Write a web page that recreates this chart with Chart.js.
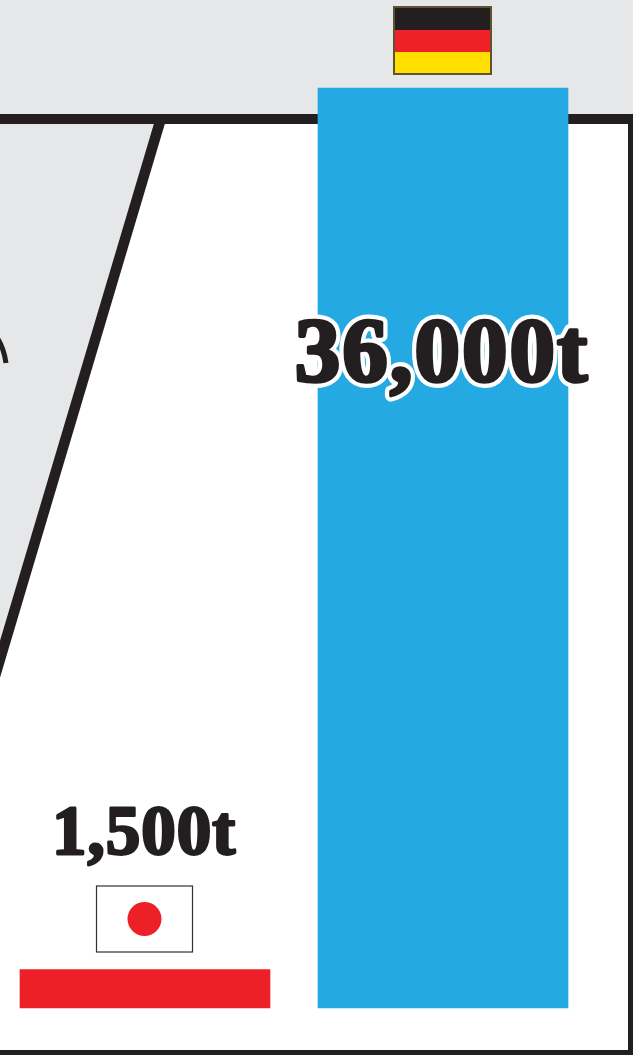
<!DOCTYPE html>
<html>
<head>
<meta charset="utf-8">
<title>Tonnes by country</title>
<script src="https://cdn.jsdelivr.net/npm/chart.js@4/dist/chart.umd.min.js"></script>
<style>
  html, body { margin: 0; padding: 0; background: #fff; overflow: hidden; }
  canvas { display: block; }
</style>
</head>
<body>
<canvas id="tonnageChart" width="633" height="1055"></canvas>
<script>
const countries = ['Japan', 'Germany'];
const tonnes = [1500, 36000];
const valueLabels = ['1,500t', '36,000t'];

const INK = '#231f20';
const PANEL = '#e6e7e8';
const RED = '#ed1f27';
const BLUE = '#25a9e2';
const YELLOW = '#ffde00';
const LABEL_FONT = '"Liberation Serif"';

// grey band, heavy frame and the slanted divider behind the bars
const backdrop = {
  id: 'backdrop',
  beforeDatasetsDraw(chart) {
    const c = chart.ctx;
    c.save();
    c.fillStyle = PANEL;
    c.fillRect(0, 0, 633, 120);
    c.beginPath();
    c.moveTo(0, 120);
    c.lineTo(160, 120);
    c.lineTo(0, 670);
    c.closePath();
    c.fill();

    c.strokeStyle = INK;
    c.lineWidth = 10.5;
    c.beginPath();
    c.moveTo(160.5, 120);
    c.lineTo(-5, 676);
    c.stroke();

    c.fillStyle = INK;
    c.fillRect(0, 114, 633, 10);
    c.fillRect(628, 114, 5, 941);
    c.fillRect(0, 1050, 633, 5);

    // end of the arc cut off at the left edge
    c.lineWidth = 5;
    c.beginPath();
    c.moveTo(-2, 339);
    c.quadraticCurveTo(4, 349, 6, 363);
    c.stroke();
    c.restore();
  }
};

function drawJapanFlag(c, cx, top) {
  c.fillStyle = '#fff';
  c.fillRect(cx - 48, top, 96, 66);
  c.strokeStyle = '#333031';
  c.lineWidth = 1.2;
  c.strokeRect(cx - 48, top, 96, 66);
  c.fillStyle = RED;
  c.beginPath();
  c.arc(cx, top + 33, 17, 0, Math.PI * 2);
  c.fill();
}

function drawGermanFlag(c, cx, top) {
  c.fillStyle = '#5c5330';
  c.fillRect(cx - 49.5, top, 99, 69);
  c.fillStyle = INK;
  c.fillRect(cx - 47.5, top + 2, 95, 22);
  c.fillStyle = '#ef2026';
  c.fillRect(cx - 47.5, top + 24, 95, 22);
  c.fillStyle = YELLOW;
  c.fillRect(cx - 47.5, top + 46, 95, 21);
}

function drawValue(c, text, cx, baseline, size, spacing, halo) {
  c.save();
  c.font = 'bold ' + size + 'px ' + LABEL_FONT;
  c.letterSpacing = spacing + 'px';
  c.textAlign = 'center';
  c.textBaseline = 'alphabetic';
  c.lineJoin = 'round';
  if (halo) {
    c.strokeStyle = '#fff';
    c.lineWidth = halo;
    c.strokeText(text, cx, baseline);
  }
  c.strokeStyle = INK;
  c.lineWidth = size * 0.04;
  c.strokeText(text, cx, baseline);
  c.fillStyle = INK;
  c.fillText(text, cx, baseline);
  c.restore();
}

// flags and value labels sit relative to their bars
const barNotes = {
  id: 'barNotes',
  afterDatasetsDraw(chart) {
    const c = chart.ctx;
    const bars = chart.getDatasetMeta(0).data;
    const japan = bars[0];
    const germany = bars[1];
    drawJapanFlag(c, japan.x - 0.5, chart.chartArea.bottom - 122);
    drawGermanFlag(c, germany.x - 0.5, germany.y - 82);
    drawValue(c, valueLabels[0], japan.x - 1, chart.chartArea.bottom - 154, 69, 1, 0);
    drawValue(c, valueLabels[1], germany.x - 1, germany.y + 293, 91, 2, 12);
  }
};

new Chart(document.getElementById('tonnageChart'), {
  type: 'bar',
  data: {
    labels: countries,
    datasets: [{
      data: tonnes,
      backgroundColor: [RED, BLUE],
      barThickness: 250,
      borderWidth: 0,
      clip: false
    }]
  },
  options: {
    responsive: false,
    animation: false,
    layout: { padding: { left: 145, right: 190, top: 88, bottom: 47 } },
    plugins: { legend: { display: false }, tooltip: { enabled: false } },
    scales: {
      x: { display: false, offset: false, grid: { display: false } },
      y: { display: false, min: 0, max: 36000, grid: { display: false } }
    }
  },
  plugins: [backdrop, barNotes]
});
</script>
</body>
</html>
